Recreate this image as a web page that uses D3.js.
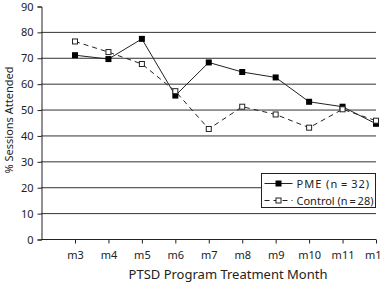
<!DOCTYPE html>
<html>
<head>
<meta charset="utf-8">
<script src="https://cdnjs.cloudflare.com/ajax/libs/d3/7.8.5/d3.min.js"></script>
<style>
  body { margin: 0; background: #fff; }
  svg { display: block; }
  text { font-family: "Noto Sans", "Open Sans", sans-serif; fill: #222; }
</style>
</head>
<body>
<div id="chart"></div>
<script>
'use strict';

// Chart data.
var months = ["m3", "m4", "m5", "m6", "m7", "m8", "m9", "m10", "m11", "m12"];
var pmeValues = [71, 69.5, 77.3, 55.4, 68.2, 64.5, 62.4, 53, 51.1, 44.5];
var controlValues = [76.3, 72.2, 67.6, 57.1, 42.5, 51.1, 48.1, 43, 50.1, 45.7];
var yTicks = [0, 10, 20, 30, 40, 50, 60, 70, 80, 90];
var gridValues = [10, 20, 30, 40, 50, 60, 70, 80];
var seriesNames = ["PME (n\u2009=\u200932)", "Control (n\u2009=\u200928)"];

var WIDTH = 382;
var HEIGHT = 283;

var svg = d3.select("#chart")
    .append("svg")
    .attr("width", WIDTH)
    .attr("height", HEIGHT);

var axisX = 41;       // y axis position
var x = d3.scalePoint()
    .domain(months)
    .range([75, 376]);

var y = d3.scaleLinear()
    .domain([0, 90])
    .range([239, 6]);

// Gridlines
svg.append("g")
    .selectAll("line")
    .data(gridValues)
    .enter()
    .append("line")
    .attr("x1", axisX)
    .attr("x2", 376)
    .attr("y1", function (d) { return y(d) + 0.5; })
    .attr("y2", function (d) { return y(d) + 0.5; })
    .style("stroke", "#333")
    .style("stroke-width", 1);

// Y axis
var yAxis = svg.append("g")
    .attr("transform", "translate(" + (axisX + 0.5) + ",0.5)")
    .call(d3.axisLeft(y).tickValues(yTicks).tickSize(4).tickPadding(4));
yAxis.select(".domain").style("stroke", "#222");
yAxis.selectAll(".tick line").style("stroke", "#222");
yAxis.selectAll("text")
    .style("font-size", "11px")
    .style("font-family", "'Noto Sans', sans-serif")
    .attr("fill", "#222");

// X axis
var xAxis = svg.append("g")
    .attr("transform", "translate(0," + (y(0) + 0.5) + ")");
xAxis.append("line")
    .attr("x1", axisX)
    .attr("x2", 376)
    .style("stroke", "#222");
xAxis.call(d3.axisBottom(x).tickSize(4).tickPadding(8));
xAxis.select(".domain").remove();
xAxis.selectAll(".tick line").style("stroke", "#222");
xAxis.selectAll("text")
    .style("font-size", "11px")
    .style("font-family", "'Noto Sans', sans-serif")
    .attr("fill", "#222");

// Axis titles
svg.append("text")
    .attr("x", 228)
    .attr("y", 279)
    .attr("text-anchor", "middle")
    .style("font-size", "13px")
    .text("PTSD Program Treatment Month");

svg.append("text")
    .attr("transform", "translate(13,120) rotate(-90)")
    .attr("text-anchor", "middle")
    .style("font-size", "11px")
    .text("%  Sessions Attended");

// Lines
var line = d3.line()
    .x(function (d, i) { return x(months[i]); })
    .y(function (d) { return y(d); });

svg.append("path")
    .datum(pmeValues)
    .attr("d", line)
    .style("fill", "none")
    .style("stroke", "#222")
    .style("stroke-width", 1);

svg.append("path")
    .datum(controlValues)
    .attr("d", line)
    .style("fill", "none")
    .style("stroke", "#222")
    .style("stroke-width", 1)
    .style("stroke-dasharray", "5,4");

var MS = 6; // marker size

svg.append("g")
    .selectAll("rect")
    .data(pmeValues)
    .enter()
    .append("rect")
    .attr("x", function (d, i) { return x(months[i]) - MS / 2; })
    .attr("y", function (d) { return y(d) - MS / 2; })
    .attr("width", MS)
    .attr("height", MS)
    .style("fill", "#000");

svg.append("g")
    .selectAll("rect")
    .data(controlValues)
    .enter()
    .append("rect")
    .attr("x", function (d, i) { return x(months[i]) - MS / 2 + 0.5; })
    .attr("y", function (d) { return y(d) - MS / 2 + 0.5; })
    .attr("width", MS - 1)
    .attr("height", MS - 1)
    .style("fill", "#fff")
    .style("stroke", "#222")
    .style("stroke-width", 1);

// Legend
var legend = svg.append("g").attr("transform", "translate(261.5,173.5)");
legend.append("rect")
    .attr("width", 114)
    .attr("height", 34)
    .style("fill", "#fff")
    .style("stroke", "#222");

var rows = legend.selectAll("g.row")
    .data(seriesNames)
    .enter()
    .append("g")
    .attr("class", "row")
    .attr("transform", function (d, i) { return "translate(0," + (10 + i * 17) + ")"; });

rows.append("line")
    .attr("x1", 3)
    .attr("x2", 31)
    .style("stroke", "#222")
    .style("stroke-dasharray", function (d, i) { return i ? "5,4" : null; });

rows.append("rect")
    .attr("x", function (d, i) { return i ? 14.5 : 14; })
    .attr("y", function (d, i) { return i ? -2.5 : -3; })
    .attr("width", function (d, i) { return i ? 5 : 6; })
    .attr("height", function (d, i) { return i ? 5 : 6; })
    .style("fill", function (d, i) { return i ? "#fff" : "#000"; })
    .style("stroke", function (d, i) { return i ? "#222" : "none"; });

rows.append("text")
    .attr("x", 35)
    .attr("y", 4)
    .style("font-size", "11px")
    .style("letter-spacing", function (d, i) { return i ? "0px" : "1px"; })
    .text(function (d) { return d; });
</script>
</body>
</html>
